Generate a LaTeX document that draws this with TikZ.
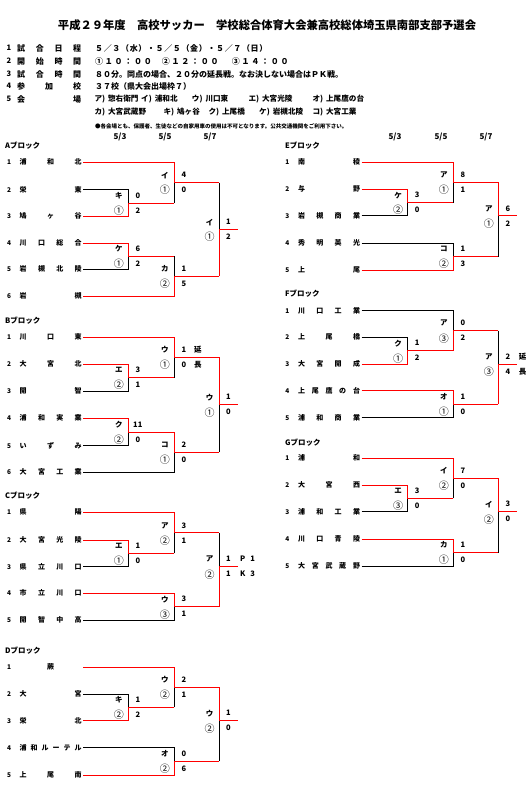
\documentclass[tikz,border=0pt]{standalone}
\usepackage{fontspec}
\setmainfont{Noto Sans CJK JP}
\tikzset{
  win/.style={draw=red,line width=1pt},
  lose/.style={draw=black,line width=1pt},
  headline/.style={font=\fontsize{11.3}{12}\selectfont\bfseries},
  info/.style={anchor=west,inner sep=0pt,font=\fontsize{8}{8}\selectfont\bfseries},
  place/.style={info,font=\fontsize{7.6}{8}\selectfont\bfseries},
  rowno/.style={inner sep=0pt,font=\fontsize{7.5}{7.5}\selectfont\bfseries},
  notice/.style={anchor=west,inner sep=0pt,font=\fontsize{5.5}{5.5}\selectfont\bfseries},
  day/.style={font=\fontsize{8}{8}\selectfont\bfseries},
  blockname/.style={anchor=west,inner sep=0pt,font=\fontsize{7.5}{7.5}\selectfont\bfseries},
  seed/.style={inner sep=0pt,font=\fontsize{6.5}{6.5}\selectfont\bfseries},
  teamname/.style={anchor=west,inner xsep=1.5pt,inner ysep=0pt,font=\fontsize{7}{7}\selectfont\bfseries},
  venue/.style={inner sep=0pt,font=\fontsize{7.5}{7.5}\selectfont\bfseries},
  slot/.style={inner sep=0pt,font=\fontsize{10}{10}\selectfont},
  goals/.style={inner sep=0pt,font=\fontsize{7.5}{7.5}\selectfont\bfseries}
}
\newcommand{\entry}[5]{%
  \node[seed] (#1n) at (#2,#3) {#4};
  \node[teamname] (#1) at (#2+9,#3) {\makebox[62pt][s]{#5}};}
\newcommand{\tally}[5]{%
  \node[venue] (#1v) at ([shift={(-9.5,-7.5)}]#1) {#2};
  \node[slot] (#1s) at ([shift={(-9.5,7.5)}]#1) {#3};
  \node[goals] (#1a) at ([shift={(9.5,-7.5)}]#1) {#4};
  \node[goals] (#1b) at ([shift={(9.5,7.5)}]#1) {#5};}
\newcommand{\kakko}{)\hspace{3pt}}

\begin{document}
\begin{tikzpicture}[x=1pt,y=-1pt]
\useasboundingbox (0,0) rectangle (527,799);

\node[headline] (title) at (267,25) {平成２９年度　高校サッカー　学校総合体育大会兼高校総体埼玉県南部支部予選会};

\node[rowno] (k1) at (9,48) {1};
\node[info] (k1t) at (17,48) {\makebox[64pt][s]{試\hfill 合\hfill 日\hfill 程}};
\node[info] (c1) at (95,48) {\addfontfeature{LetterSpace=8}５／３（水）・５／５（金）・５／７（日）};
\node[rowno] (k2) at (9,61) {2};
\node[info] (k2t) at (17,61) {\makebox[64pt][s]{開\hfill 始\hfill 時\hfill 間}};
\node[info] (c2a) at (95,61) {\addfontfeature{LetterSpace=22}①１０：００};
\node[info] (c2b) at (161.7,61) {\addfontfeature{LetterSpace=22}②１２：００};
\node[info] (c2c) at (231.7,61) {\addfontfeature{LetterSpace=22}③１４：００};
\node[rowno] (k3) at (9,74) {3};
\node[info] (k3t) at (17,74) {\makebox[64pt][s]{試\hfill 合\hfill 時\hfill 間}};
\node[info] (c3) at (95,74) {８０分。同点の場合、２０分の延長戦。なお決しない場合はＰＫ戦。};
\node[rowno] (k4) at (9,86) {4};
\node[info] (k4t) at (17,86) {\makebox[64pt][s]{参\hfill 加\hfill 校}};
\node[info] (c4) at (95,86) {３７校（県大会出場枠７）};
\node[rowno] (k5) at (9,99) {5};
\node[info] (k5t) at (17,99) {\makebox[64pt][s]{会\hfill 場}};
\node[place] (p1) at (94.3,99) {ア\kakko 惣右衛門};
\node[place] (p2) at (141,99) {イ\kakko 浦和北};
\node[place] (p3) at (191.7,99) {ウ\kakko 川口東};
\node[place] (p4) at (248.3,99) {エ\kakko 大宮光陵};
\node[place] (p5) at (312.3,99) {オ\kakko 上尾鷹の台};
\node[place] (p6) at (94.3,112) {カ\kakko 大宮武蔵野};
\node[place] (p7) at (163.3,112) {キ\kakko 鳩ヶ谷};
\node[place] (p8) at (208.3,112) {ク\kakko 上尾橋};
\node[place] (p9) at (259,112) {ケ\kakko 岩槻北陵};
\node[place] (p10) at (312.3,112) {コ\kakko 大宮工業};
\node[notice] (memo) at (95,126) {●各会場とも、保護者、生徒などの自家用車の使用は不可となります。公共交通機関をご利用下さい。};

\node[day] (dl1) at (120,137) {5/3};
\node[day] (dl2) at (165,137) {5/5};
\node[day] (dl3) at (210,137) {5/7};
\node[day] (dr1) at (395,137) {5/3};
\node[day] (dr2) at (441,137) {5/5};
\node[day] (dr3) at (486,137) {5/7};

% A
\node[blockname] (blkA) at (5,146) {Aブロック};
\entry{a1}{9}{162.3}{1}{浦\hfill 和\hfill 北}
\entry{a2}{9}{190}{2}{栄\hfill 東}
\entry{a3}{9}{216.3}{3}{鳩\hfill ヶ\hfill 谷}
\entry{a4}{9}{243.3}{4}{川\hfill 口\hfill 総\hfill 合}
\entry{a5}{9}{269.3}{5}{岩\hfill 槻\hfill 北\hfill 陵}
\entry{a6}{9}{296}{6}{岩\hfill 槻}
\coordinate (mA1) at (128.3,203.2);
\coordinate (mA2) at (174.3,182.7);
\coordinate (mA4) at (128.3,256.3);
\coordinate (mA5) at (174.3,276.2);
\coordinate (mA3) at (219,229.6);
\draw[lose] (a2.east) -| (mA1);
\draw[lose] (a5.east) -| (mA4);
\draw[lose] (mA1 -| mA2) -- (mA2);
\draw[lose] (mA4 -| mA5) -- (mA5);
\draw[lose] (mA2 -| mA3) -- (mA3);
\draw[win] (a3.east) -| (mA1) -- (mA1 -| mA2);
\draw[win] (a4.east) -| (mA4) -- (mA4 -| mA5);
\draw[win] (a1.east) -| (mA2) -- (mA2 -| mA3);
\draw[win] (a6.east) -| (mA5) -- (mA5 -| mA3);
\draw[win] (mA5 -| mA3) -- (mA3) -- ++(18.5,0);
\tally{mA1}{キ}{①}{0}{2}
\tally{mA2}{イ}{①}{4}{0}
\tally{mA4}{ケ}{①}{6}{2}
\tally{mA5}{カ}{②}{1}{5}
\tally{mA3}{イ}{①}{1}{2}

% B
\node[blockname] (blkB) at (5,320.7) {Bブロック};
\entry{b1}{9}{337.3}{1}{川\hfill 口\hfill 東}
\entry{b2}{9}{364}{2}{大\hfill 宮\hfill 北}
\entry{b3}{9}{391}{3}{開\hfill 智}
\entry{b4}{9}{418.3}{4}{浦\hfill 和\hfill 実\hfill 業}
\entry{b5}{9}{445.7}{5}{い\hfill ず\hfill み}
\entry{b6}{9}{472.3}{6}{大\hfill 宮\hfill 工\hfill 業}
\coordinate (mB1) at (128.3,377.5);
\coordinate (mB2) at (174.3,357.4);
\coordinate (mB4) at (128.3,432);
\coordinate (mB5) at (174.3,452.2);
\coordinate (mB3) at (219,404.7);
\draw[lose] (b3.east) -| (mB1);
\draw[lose] (b5.east) -| (mB4);
\draw[lose] (mB1 -| mB2) -- (mB2);
\draw[lose] (b6.east) -| (mB5);
\draw[lose] (mB5 -| mB3) -- (mB3);
\draw[win] (b2.east) -| (mB1) -- (mB1 -| mB2);
\draw[win] (b4.east) -| (mB4) -- (mB4 -| mB5);
\draw[win] (b1.east) -| (mB2) -- (mB2 -| mB3);
\draw[win] (mB4 -| mB5) -- (mB5) -- (mB5 -| mB3);
\draw[win] (mB2 -| mB3) -- (mB3) -- ++(18.5,0);
\tally{mB1}{エ}{②}{3}{1}
\tally{mB2}{ウ}{①}{1}{0}
\tally{mB4}{ク}{②}{11}{0}
\tally{mB5}{コ}{①}{2}{0}
\tally{mB3}{ウ}{①}{1}{0}
\node[goals] (mB2x) at ([shift={(23.5,-7.5)}]mB2) {延};
\node[goals] (mB2y) at ([shift={(23.5,7.5)}]mB2) {長};

% C
\node[blockname] (blkC) at (5,495.7) {Cブロック};
\entry{c1}{9}{512.3}{1}{県\hfill 陽}
\entry{c2}{9}{540}{2}{大\hfill 宮\hfill 光\hfill 陵}
\entry{c3}{9}{566.7}{3}{県\hfill 立\hfill 川\hfill 口}
\entry{c4}{9}{593.3}{4}{市\hfill 立\hfill 川\hfill 口}
\entry{c5}{9}{620}{5}{開\hfill 智\hfill 中\hfill 高}
\coordinate (mC1) at (128.3,553.4);
\coordinate (mC2) at (174.3,532.9);
\coordinate (mC4) at (174.3,606.7);
\coordinate (mC3) at (219,566.7);
\draw[lose] (c3.east) -| (mC1);
\draw[lose] (mC1 -| mC2) -- (mC2);
\draw[lose] (c5.east) -| (mC4);
\draw[lose] (mC2 -| mC3) -- (mC3);
\draw[win] (c2.east) -| (mC1) -- (mC1 -| mC2);
\draw[win] (c1.east) -| (mC2) -- (mC2 -| mC3);
\draw[win] (c4.east) -| (mC4) -- (mC4 -| mC3);
\draw[win] (mC4 -| mC3) -- (mC3) -- ++(18.5,0);
\tally{mC1}{エ}{①}{1}{0}
\tally{mC2}{ア}{②}{3}{1}
\tally{mC4}{ウ}{③}{3}{1}
\tally{mC3}{ア}{②}{1}{1}
\node[goals] (mC3x) at ([shift={(28.5,-7.5)}]mC3) {P\hspace{5pt}1};
\node[goals] (mC3y) at ([shift={(28.5,7.5)}]mC3) {K\hspace{5pt}3};

% D
\node[blockname] (blkD) at (5,650.7) {Dブロック};
\entry{d1}{9}{667.3}{1}{\hfil 蕨\hfil}
\entry{d2}{9}{694}{2}{大\hfill 宮}
\entry{d3}{9}{720.7}{3}{栄\hfill 北}
\entry{d4}{9}{747.7}{4}{浦\hfill 和\hfill ル\hfill ー\hfill テ\hfill ル}
\entry{d5}{9}{775}{5}{上\hfill 尾\hfill 南}
\coordinate (mD1) at (128.3,707.4);
\coordinate (mD2) at (174.3,687.4);
\coordinate (mD4) at (174.3,761.4);
\coordinate (mD3) at (219,720.7);
\draw[lose] (d2.east) -| (mD1);
\draw[lose] (mD1 -| mD2) -- (mD2);
\draw[lose] (d4.east) -| (mD4);
\draw[lose] (mD4 -| mD3) -- (mD3);
\draw[win] (d3.east) -| (mD1) -- (mD1 -| mD2);
\draw[win] (d1.east) -| (mD2) -- (mD2 -| mD3);
\draw[win] (d5.east) -| (mD4) -- (mD4 -| mD3);
\draw[win] (mD2 -| mD3) -- (mD3) -- ++(18.5,0);
\tally{mD1}{キ}{②}{1}{2}
\tally{mD2}{ウ}{②}{2}{1}
\tally{mD4}{オ}{②}{0}{6}
\tally{mD3}{ウ}{②}{1}{0}

% E
\node[blockname] (blkE) at (285,145.7) {Eブロック};
\entry{e1}{287.3}{162.3}{1}{南\hfill 稜}
\entry{e2}{287.3}{189.3}{2}{与\hfill 野}
\entry{e3}{287.3}{216}{3}{岩\hfill 槻\hfill 商\hfill 業}
\entry{e4}{287.3}{243.3}{4}{秀\hfill 明\hfill 英\hfill 光}
\entry{e5}{287.3}{270}{5}{上\hfill 尾}
\coordinate (mE1) at (407.7,202.7);
\coordinate (mE2) at (453.3,182.5);
\coordinate (mE4) at (453.3,256.7);
\coordinate (mE3) at (498.3,216);
\draw[lose] (e3.east) -| (mE1);
\draw[lose] (mE1 -| mE2) -- (mE2);
\draw[lose] (e4.east) -| (mE4);
\draw[lose] (mE4 -| mE3) -- (mE3);
\draw[win] (e2.east) -| (mE1) -- (mE1 -| mE2);
\draw[win] (e1.east) -| (mE2) -- (mE2 -| mE3);
\draw[win] (e5.east) -| (mE4) -- (mE4 -| mE3);
\draw[win] (mE2 -| mE3) -- (mE3) -- ++(18.5,0);
\tally{mE1}{ケ}{②}{3}{0}
\tally{mE2}{ア}{①}{8}{1}
\tally{mE4}{コ}{②}{1}{3}
\tally{mE3}{ア}{①}{6}{2}

% F
\node[blockname] (blkF) at (285,293.3) {Fブロック};
\entry{f1}{287.3}{310.7}{1}{川\hfill 口\hfill 工\hfill 業}
\entry{f2}{287.3}{337.3}{2}{上\hfill 尾\hfill 橋}
\entry{f3}{287.3}{364}{3}{大\hfill 宮\hfill 開\hfill 成}
\entry{f4}{287.3}{390.7}{4}{上\hfill 尾\hfill 鷹\hfill の\hfill 台}
\entry{f5}{287.3}{417.7}{5}{浦\hfill 和\hfill 商\hfill 業}
\coordinate (mF1) at (407.7,350.7);
\coordinate (mF2) at (453.3,330.7);
\coordinate (mF4) at (453.3,404.2);
\coordinate (mF3) at (498.3,364);
\draw[lose] (f2.east) -| (mF1);
\draw[lose] (f1.east) -| (mF2);
\draw[lose] (f5.east) -| (mF4);
\draw[lose] (mF2 -| mF3) -- (mF3);
\draw[win] (f3.east) -| (mF1) -- (mF1 -| mF2);
\draw[win] (mF1 -| mF2) -- (mF2) -- (mF2 -| mF3);
\draw[win] (f4.east) -| (mF4) -- (mF4 -| mF3);
\draw[win] (mF4 -| mF3) -- (mF3) -- ++(18.5,0);
\tally{mF1}{ク}{①}{1}{2}
\tally{mF2}{ア}{③}{0}{2}
\tally{mF4}{オ}{①}{1}{0}
\tally{mF3}{ア}{③}{2}{4}
\node[goals] (mF3x) at ([shift={(24.4,-7.5)}]mF3) {延};
\node[goals] (mF3y) at ([shift={(24.4,7.5)}]mF3) {長};

% G
\node[blockname] (blkG) at (285,442.3) {Gブロック};
\entry{g1}{287.3}{458.3}{1}{浦\hfill 和}
\entry{g2}{287.3}{485}{2}{大\hfill 宮\hfill 西}
\entry{g3}{287.3}{511.7}{3}{浦\hfill 和\hfill 工\hfill 業}
\entry{g4}{287.3}{539}{4}{川\hfill 口\hfill 青\hfill 陵}
\entry{g5}{287.3}{566}{5}{大\hfill 宮\hfill 武\hfill 蔵\hfill 野}
\coordinate (mG1) at (407.7,498.3);
\coordinate (mG2) at (453.3,478.3);
\coordinate (mG4) at (453.3,552.5);
\coordinate (mG3) at (498.3,511.7);
\draw[lose] (g3.east) -| (mG1);
\draw[lose] (mG1 -| mG2) -- (mG2);
\draw[lose] (g5.east) -| (mG4);
\draw[lose] (mG4 -| mG3) -- (mG3);
\draw[win] (g2.east) -| (mG1) -- (mG1 -| mG2);
\draw[win] (g1.east) -| (mG2) -- (mG2 -| mG3);
\draw[win] (g4.east) -| (mG4) -- (mG4 -| mG3);
\draw[win] (mG2 -| mG3) -- (mG3) -- ++(18.5,0);
\tally{mG1}{エ}{③}{3}{0}
\tally{mG2}{イ}{②}{7}{0}
\tally{mG4}{カ}{①}{1}{0}
\tally{mG3}{イ}{②}{3}{0}
\end{tikzpicture}
\end{document}
